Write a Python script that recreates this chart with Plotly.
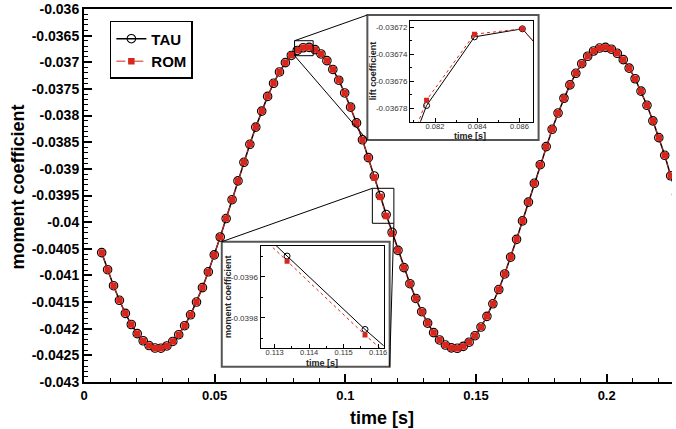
import plotly.graph_objects as go

# ---------------- data ----------------
time_s = [0.00676, 0.00903, 0.01130, 0.01356, 0.01583, 0.01810, 0.02037, 0.02264, 0.02490, 0.02717,
          0.02944, 0.03171, 0.03398, 0.03624, 0.03851, 0.04078, 0.04305, 0.04532, 0.04758, 0.04985,
          0.05212, 0.05439, 0.05666, 0.05892, 0.06119, 0.06346, 0.06573, 0.06800, 0.07026, 0.07253,
          0.07480, 0.07707, 0.07934, 0.08160, 0.08387, 0.08614, 0.08841, 0.09068, 0.09294, 0.09521,
          0.09748, 0.09975, 0.10202, 0.10428, 0.10655, 0.10882, 0.11109, 0.11336, 0.11562, 0.11789,
          0.12016, 0.12243, 0.12470, 0.12696, 0.12923, 0.13150, 0.13377, 0.13604, 0.13830, 0.14057,
          0.14284, 0.14511, 0.14738, 0.14964, 0.15191, 0.15418, 0.15645, 0.15872, 0.16098, 0.16325,
          0.16552, 0.16779, 0.17006, 0.17232, 0.17459, 0.17686, 0.17913, 0.18140, 0.18366, 0.18593,
          0.18820, 0.19047, 0.19274, 0.19500, 0.19727, 0.19954, 0.20181, 0.20408, 0.20634, 0.20861,
          0.21088, 0.21315, 0.21542, 0.21768, 0.21995, 0.22222, 0.22449, 0.22676]

tau_moment = [-0.040572, -0.040893, -0.041193, -0.041467, -0.041712, -0.041921, -0.042093, -0.042226, -0.042316, -0.042363,
              -0.042366, -0.042324, -0.042239, -0.042112, -0.041944, -0.041739, -0.041499, -0.041229, -0.040932, -0.040614,
              -0.040279, -0.039932, -0.039579, -0.039226, -0.038877, -0.038539, -0.038217, -0.037916, -0.037640, -0.037394,
              -0.037182, -0.037007, -0.036872, -0.036778, -0.036727, -0.036721, -0.036762, -0.036844, -0.036969, -0.037134,
              -0.037336, -0.037575, -0.037842, -0.038138, -0.038455, -0.038789, -0.039135, -0.039499, -0.039857, -0.040191,
              -0.040529, -0.040853, -0.041155, -0.041432, -0.041681, -0.041895, -0.042073, -0.042211, -0.042307, -0.042359,
              -0.042368, -0.042332, -0.042253, -0.042131, -0.041969, -0.041768, -0.041532, -0.041265, -0.040972, -0.040656,
              -0.040323, -0.039977, -0.039624, -0.039271, -0.038922, -0.038582, -0.038257, -0.037953, -0.037675, -0.037424,
              -0.037207, -0.037027, -0.036887, -0.036788, -0.036733, -0.036721, -0.036754, -0.036831, -0.036951, -0.037110,
              -0.037309, -0.037542, -0.037807, -0.038099, -0.038414, -0.038746, -0.039130, -0.039480]

rom_moment = [-0.040572, -0.040893, -0.041193, -0.041467, -0.041712, -0.041921, -0.042093, -0.042226, -0.042316, -0.042363,
              -0.042366, -0.042324, -0.042239, -0.042112, -0.041944, -0.041739, -0.041499, -0.041229, -0.040932, -0.040614,
              -0.040279, -0.039932, -0.039579, -0.039226, -0.038877, -0.038539, -0.038217, -0.037916, -0.037640, -0.037394,
              -0.037182, -0.037007, -0.036868, -0.036774, -0.036725, -0.036721, -0.036762, -0.036844, -0.036969, -0.037134,
              -0.037336, -0.037575, -0.037842, -0.038138, -0.038455, -0.038789, -0.039161, -0.039525, -0.039884, -0.040218,
              -0.040529, -0.040853, -0.041155, -0.041432, -0.041681, -0.041895, -0.042073, -0.042211, -0.042307, -0.042359,
              -0.042368, -0.042332, -0.042253, -0.042131, -0.041969, -0.041768, -0.041532, -0.041265, -0.040972, -0.040656,
              -0.040323, -0.039977, -0.039624, -0.039271, -0.038922, -0.038582, -0.038257, -0.037953, -0.037675, -0.037424,
              -0.037207, -0.037027, -0.036887, -0.036788, -0.036733, -0.036721, -0.036754, -0.036831, -0.036951, -0.037110,
              -0.037309, -0.037542, -0.037807, -0.038099, -0.038414, -0.038746, -0.039130, -0.039480]

x_tickvals = [0, 0.05, 0.1, 0.15, 0.2]
x_ticktext = ["0", "0.05", "0.1", "0.15", "0.2"]
y_tickvals = [-0.036, -0.0365, -0.037, -0.0375, -0.038, -0.0385, -0.039, -0.0395,
              -0.040, -0.0405, -0.041, -0.0415, -0.042, -0.0425, -0.043]
y_ticktext = ["-0.036", "-0.0365", "-0.037", "-0.0375", "-0.038", "-0.0385", "-0.039", "-0.0395",
              "-0.04", "-0.0405", "-0.041", "-0.0415", "-0.042", "-0.0425", "-0.043"]

in1_xtickvals = [0.082, 0.084, 0.086]
in1_xticktext = ["0.082", "0.084", "0.086"]
in1_ytickvals = [-0.03672, -0.03674, -0.03676, -0.03678]
in1_yticktext = ["-0.03672", "-0.03674", "-0.03676", "-0.03678"]
in2_xtickvals = [0.113, 0.114, 0.115, 0.116]
in2_xticktext = ["0.113", "0.114", "0.115", "0.116"]
in2_ytickvals = [-0.0396, -0.0398]
in2_yticktext = ["-0.0396", "-0.0398"]

in1_xrange = [0.08082, 0.08664]
in1_yrange = [-0.03679, -0.036715]
in2_xrange = [0.11259, 0.11616]
in2_yrange = [-0.039946, -0.03945]

FONT = "Liberation Sans, Arial, sans-serif"
RED = "#D8261C"

fig = go.Figure()
# main traces
fig.add_trace(go.Scatter(x=time_s, y=tau_moment, name="TAU", mode="lines+markers",
                         line=dict(color="black", width=1.5),
                         marker=dict(symbol="circle-open", size=8.5, color="black", line=dict(width=1.1)),
                         xaxis="x", yaxis="y"))
fig.add_trace(go.Scatter(x=time_s, y=rom_moment, name="ROM", mode="lines+markers",
                         line=dict(color=RED, width=1, dash="dashdot"),
                         marker=dict(symbol="square", size=6.5, color=RED),
                         xaxis="x", yaxis="y"))
# inset traces
for ax, yax in (("x2", "y2"), ("x3", "y3")):
    fig.add_trace(go.Scatter(x=time_s, y=tau_moment, mode="lines+markers", showlegend=False,
                             line=dict(color="black", width=1),
                             marker=dict(symbol="circle-open", size=6, color="black", line=dict(width=1)),
                             xaxis=ax, yaxis=yax))
    fig.add_trace(go.Scatter(x=time_s, y=rom_moment, mode="lines+markers", showlegend=False,
                             line=dict(color=RED, width=1, dash="dot"),
                             marker=dict(symbol="square", size=5, color=RED),
                             xaxis=ax, yaxis=yax))

main_font = dict(family=FONT, size=14, color="black", weight="bold")
in_font = dict(family=FONT, size=8, color="#333333")
in_xfont = dict(family=FONT, size=7.5, color="#333333")

fig.update_layout(
    width=676, height=429, autosize=False,
    margin=dict(l=84, r=0, t=9, b=47),
    paper_bgcolor="white", plot_bgcolor="white",
    showlegend=True,
    legend=dict(x=0.044, y=0.968, xanchor="left", yanchor="top",
                bordercolor="black", borderwidth=1.5, bgcolor="white",
                font=dict(family=FONT, size=15, color="black", weight="bold"),
                tracegroupgap=0, entrywidthmode="pixels", entrywidth=70),
    xaxis=dict(domain=[0, 1], range=[0, 0.225], anchor="y",
               showline=True, linewidth=2, linecolor="black", mirror=True,
               ticks="inside", ticklen=8, tickwidth=1.5, tickcolor="black",
               tickmode="array", tickvals=x_tickvals, ticktext=x_ticktext,
               tickfont=dict(family=FONT, size=13, color="black", weight="bold"),
               minor=dict(dtick=0.01, tick0=0, ticks="inside", ticklen=4, tickwidth=1, tickcolor="black"),
               showgrid=False, zeroline=False),
    yaxis=dict(domain=[0, 1], range=[-0.043, -0.036], anchor="x",
               showline=True, linewidth=2, linecolor="black",
               ticks="inside", ticklen=8, tickwidth=1.5, tickcolor="black",
               tickmode="array", tickvals=y_tickvals, ticktext=y_ticktext,
               tickfont=main_font,
               minor=dict(dtick=0.0001, tick0=-0.043, ticks="inside", ticklen=4, tickwidth=1, tickcolor="black"),
               showgrid=False, zeroline=False),
    xaxis2=dict(domain=[0.5546, 0.7635], range=in1_xrange, anchor="y2",
                showline=True, linewidth=1, linecolor="black", mirror=True,
                ticks="inside", ticklen=4, tickwidth=1, tickcolor="black",
                tickmode="array", tickvals=in1_xtickvals, ticktext=in1_xticktext, tickfont=in_xfont,
                ticklabelstandoff=-3,
                minor=dict(dtick=0.001, tick0=0.08, ticks="inside", ticklen=2, tickcolor="black"),
                showgrid=False, zeroline=False),
    yaxis2=dict(domain=[0.6979, 0.9686], range=in1_yrange, anchor="x2",
                showline=True, linewidth=1, linecolor="black", mirror=True,
                ticks="inside", ticklen=4, tickwidth=1, tickcolor="black",
                tickmode="array", tickvals=in1_ytickvals, ticktext=in1_yticktext, tickfont=in_font,
                minor=dict(dtick=0.00001, tick0=-0.0368, ticks="inside", ticklen=2, tickcolor="black"),
                showgrid=False, zeroline=False),
    xaxis3=dict(domain=[0.3002, 0.5096], range=in2_xrange, anchor="y3",
                showline=True, linewidth=1, linecolor="black", mirror=True,
                ticks="inside", ticklen=4, tickwidth=1, tickcolor="black",
                tickmode="array", tickvals=in2_xtickvals, ticktext=in2_xticktext, tickfont=in_xfont,
                ticklabelstandoff=-3,
                minor=dict(dtick=0.0005, tick0=0.112, ticks="inside", ticklen=2, tickcolor="black"),
                showgrid=False, zeroline=False),
    yaxis3=dict(domain=[0.0920, 0.3646], range=in2_yrange, anchor="x3",
                showline=True, linewidth=1, linecolor="black", mirror=True,
                ticks="inside", ticklen=4, tickwidth=1, tickcolor="black",
                tickmode="array", tickvals=in2_ytickvals, ticktext=in2_yticktext, tickfont=in_font,
                minor=dict(dtick=0.0001, tick0=-0.04, ticks="inside", ticklen=2, tickcolor="black"),
                showgrid=False, zeroline=False),
)

shapes = [
    dict(type="rect", xref="paper", yref="paper", x0=0.4819, x1=0.7731, y0=0.6488, y1=0.9839,
         fillcolor="white", line=dict(color="#555555", width=2), layer="below"),
    dict(type="rect", xref="paper", yref="paper", x0=0.2343, x1=0.5198, y0=0.0410, y1=0.3761,
         fillcolor="white", line=dict(color="#555555", width=2), layer="below"),
    dict(type="rect", xref="paper", yref="paper", x0=0.3581, x1=0.3897, y0=0.8748, y1=0.9150,
         line=dict(color="black", width=1), layer="above"),
    dict(type="rect", xref="paper", yref="paper", x0=0.4904, x1=0.5270, y0=0.4255, y1=0.5193,
         line=dict(color="black", width=1), layer="above"),
    dict(type="line", xref="paper", yref="paper", x0=0.3581, y0=0.9150, x1=0.4819, y1=0.9839,
         line=dict(color="black", width=1)),
    dict(type="line", xref="paper", yref="paper", x0=0.3581, y0=0.8748, x1=0.4819, y1=0.6488,
         line=dict(color="black", width=1)),
    dict(type="line", xref="paper", yref="paper", x0=0.4904, y0=0.5193, x1=0.2343, y1=0.3761,
         line=dict(color="black", width=1)),
    dict(type="line", xref="paper", yref="paper", x0=0.5270, y0=0.4255, x1=0.5198, y1=0.0410,
         line=dict(color="black", width=1)),
]
fig.update_layout(shapes=shapes)

ann_bold9 = dict(family=FONT, size=9, color="#222222", weight="bold")
annotations = [
    dict(text="time [s]", xref="paper", yref="paper", x=0.5068, y=-0.0965, showarrow=False,
         xanchor="center", yanchor="middle", font=dict(family=FONT, size=18, color="black", weight="bold")),
    dict(text="moment coefficient", xref="paper", yref="paper", x=-0.1115, y=0.5228, showarrow=False,
         textangle=-90, xanchor="center", yanchor="middle",
         font=dict(family=FONT, size=18, color="black", weight="bold")),
    dict(text="lift coefficient", xref="paper", yref="paper", x=0.4916, y=0.8333, showarrow=False,
         textangle=-90, xanchor="center", yanchor="middle", font=ann_bold9),
    dict(text="time [s]", xref="paper", yref="paper", x=0.6571, y=0.6595, showarrow=False,
         xanchor="center", yanchor="middle", font=ann_bold9),
    dict(text="moment coefficient", xref="paper", yref="paper", x=0.2449, y=0.2279, showarrow=False,
         textangle=-90, xanchor="center", yanchor="middle", font=ann_bold9),
    dict(text="time [s]", xref="paper", yref="paper", x=0.4054, y=0.0515, showarrow=False,
         xanchor="center", yanchor="middle", font=ann_bold9),
]
fig.update_layout(annotations=annotations)

fig.write_html("out.html")
